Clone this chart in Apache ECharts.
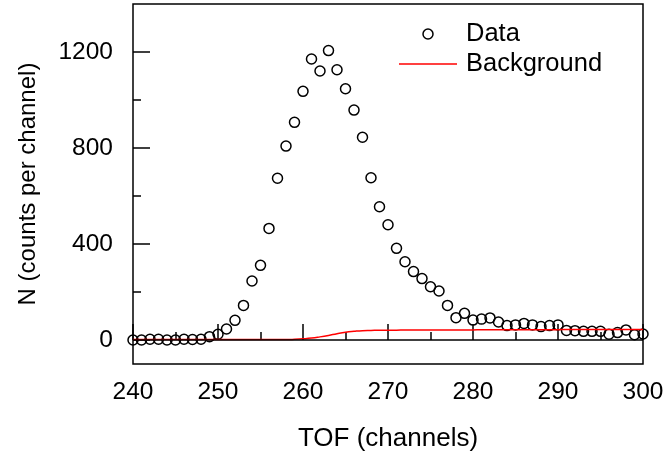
<!DOCTYPE html>
<html>
<head>
<meta charset="utf-8">
<script src="https://cdn.jsdelivr.net/npm/echarts@6/dist/echarts.min.js"></script>
<style>
  html, body { margin: 0; padding: 0; background: #fff; }
  #chart { width: 668px; height: 460px; }
</style>
</head>
<body>
<div id="chart"></div>
<script>
// TOF channels 240..300
const channels = [
  240, 241, 242, 243, 244, 245, 246, 247, 248, 249,
  250, 251, 252, 253, 254, 255, 256, 257, 258, 259,
  260, 261, 262, 263, 264, 265, 266, 267, 268, 269,
  270, 271, 272, 273, 274, 275, 276, 277, 278, 279,
  280, 281, 282, 283, 284, 285, 286, 287, 288, 289,
  290, 291, 292, 293, 294, 295, 296, 297, 298, 299, 300
];
// measured counts per channel
const counts = [
  0, 0, 3, 3, 0, 0, 3, 2, 3, 14,
  24, 46, 82, 144, 246, 311, 465, 674, 808, 907,
  1036, 1171, 1121, 1206, 1126, 1047, 958, 845, 676, 555,
  480, 382, 326, 285, 256, 222, 204, 144, 93, 111,
  83, 87, 92, 75, 60, 63, 69, 63, 56, 60,
  63, 40, 39, 36, 36, 36, 24, 31, 42, 22, 25
];
// fitted background
const background = [
  2, 2, 2, 2, 2, 2, 2, 2, 2, 2,
  2, 2, 2, 2, 2, 2, 2, 2, 2, 3,
  5, 8, 13, 19, 26, 32, 36, 39, 40, 41,
  41, 41, 42, 42, 42, 42, 42, 42, 42, 42,
  42, 43, 43, 43, 43, 43, 43, 43, 43, 43,
  43, 44, 44, 44, 44, 44, 44, 44, 44, 44, 44
];
const yMajorTicks = [0, 400, 800, 1200];
const yMinorTicks = [200, 600, 1000];

const font = "'Liberation Sans', Arial, sans-serif";

const myChart = echarts.init(document.getElementById("chart"), null, { renderer: "canvas" });

const zip = (xs, ys) => xs.map((x, i) => [x, ys[i]]);

const option = {
  animation: false,
  backgroundColor: "#fff",
  textStyle: { fontFamily: font },
  grid: {
    left: 133,
    right: 25,
    top: 4,
    bottom: 96,
    show: true,
    borderColor: "#000",
    borderWidth: 1.5,
    backgroundColor: "transparent"
  },
  legend: {
    orient: "vertical",
    left: 394,
    top: 16,
    itemWidth: 58,
    itemHeight: 10,
    itemGap: 4,
    selectedMode: false,
    textStyle: { fontSize: 25.5, color: "#000", fontFamily: font, padding: [0, 0, 0, 4] },
    data: [
      {
        name: "Data",
        icon: "circle",
        itemStyle: { color: "rgba(0,0,0,0)", borderColor: "#000", borderWidth: 1.5 }
      },
      {
        name: "Background",
        icon: "path://M0,0H58V1.5H0Z",
        itemStyle: { color: "#ff0000", borderWidth: 0 }
      }
    ]
  },
  xAxis: {
    type: "value",
    min: 240,
    max: 300,
    interval: 10,
    name: "TOF (channels)",
    nameLocation: "middle",
    nameGap: 62,
    nameTextStyle: { fontSize: 26, color: "#000", fontFamily: font },
    axisLine: { show: false },
    axisTick: { show: true, inside: true, length: 16, lineStyle: { color: "#000", width: 1.5 } },
    minorTick: { show: true, splitNumber: 2, length: 8, lineStyle: { color: "#000", width: 1.5 } },
    axisLabel: { fontSize: 24.5, color: "#000", margin: 16, fontFamily: font },
    splitLine: { show: false }
  },
  yAxis: [
    {
      type: "value",
      min: -100,
      max: 1400,
      name: "N (counts per channel)",
      nameLocation: "middle",
      nameGap: 93,
      nameTextStyle: { fontSize: 24, color: "#000", fontFamily: font },
      axisLine: { show: false },
      axisTick: {
        show: true,
        inside: true,
        length: 17,
        customValues: yMajorTicks,
        lineStyle: { color: "#000", width: 1.5 }
      },
      axisLabel: {
        fontSize: 24.5,
        color: "#000",
        margin: 20,
        fontFamily: font,
        customValues: yMajorTicks,
        formatter: (v) => String(v)
      },
      splitLine: { show: false }
    },
    {
      type: "value",
      min: -100,
      max: 1400,
      position: "left",
      axisLine: { show: false },
      axisTick: {
        show: true,
        inside: true,
        length: 8,
        customValues: yMinorTicks,
        lineStyle: { color: "#000", width: 1.5 }
      },
      axisLabel: { show: false },
      splitLine: { show: false }
    }
  ],
  series: [
    {
      name: "Data",
      type: "scatter",
      yAxisIndex: 0,
      symbol: "circle",
      symbolSize: 10,
      z: 2,
      itemStyle: { color: "rgba(0,0,0,0)", borderColor: "#000", borderWidth: 1.5, opacity: 1 },
      data: zip(channels, counts),
      markLine: {
        silent: true,
        symbol: ["none", "none"],
        label: { show: false },
        lineStyle: { color: "#000", width: 1.5, type: "solid" },
        data: [{ yAxis: 0 }]
      }
    },
    {
      name: "Background",
      type: "line",
      yAxisIndex: 0,
      symbol: "none",
      smooth: true,
      z: 3,
      lineStyle: { color: "#ff0000", width: 1.5 },
      itemStyle: { color: "#ff0000" },
      data: zip(channels, background)
    }
  ]
};

myChart.setOption(option);
</script>
</body>
</html>
